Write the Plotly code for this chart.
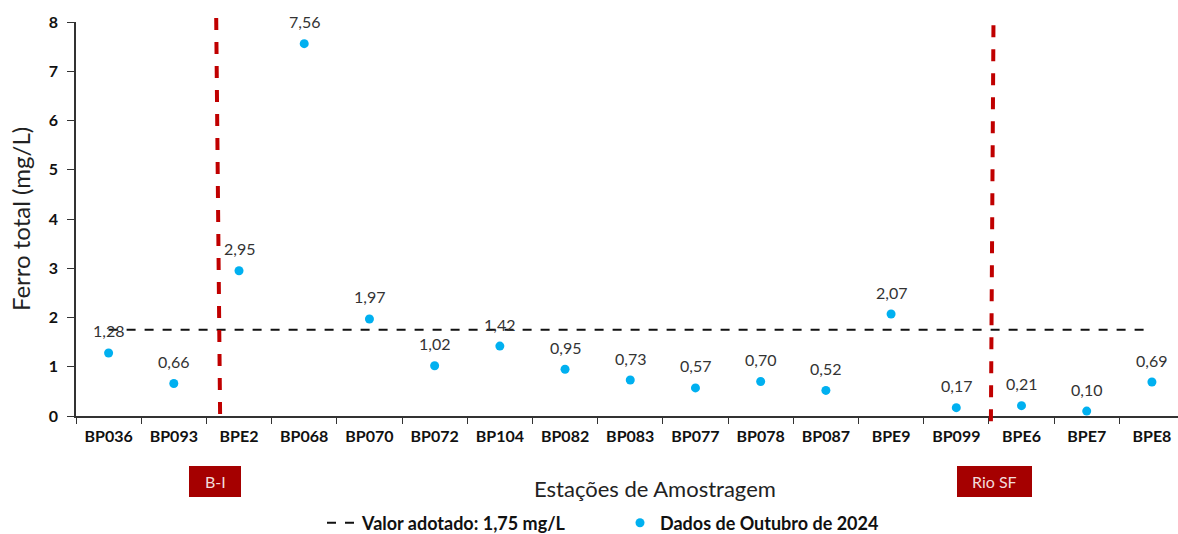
import plotly.graph_objects as go

stations = ["BP036", "BP093", "BPE2", "BP068", "BP070", "BP072", "BP104", "BP082",
            "BP083", "BP077", "BP078", "BP087", "BPE9", "BP099", "BPE6", "BPE7", "BPE8"]
ferro = [1.28, 0.66, 2.95, 7.56, 1.97, 1.02, 1.42, 0.95, 0.73, 0.57, 0.70, 0.52,
         2.07, 0.17, 0.21, 0.10, 0.69]
valor_adotado = 1.75
yticks = [0, 1, 2, 3, 4, 5, 6, 7, 8]
labels = [f"{v:.2f}".replace(".", ",") for v in ferro]

FONT = "Lato"
L, T, PW, PH = 76, 22, 1102, 394

fig = go.Figure()
fig.add_trace(go.Scatter(
    x=[stations[0], stations[-1]], y=[valor_adotado, valor_adotado], mode="lines",
    line=dict(color="#111111", width=2, dash="dash"),
    name="Valor adotado: 1,75 mg/L"))
fig.add_trace(go.Scatter(
    x=stations, y=ferro, mode="markers",
    marker=dict(color="#00B0F0", size=9),
    name="Dados de Outubro de 2024"))

for s, v, t in zip(stations, ferro, labels):
    fig.add_annotation(x=s, y=v, text=t, showarrow=False, yshift=22,
                       font=dict(family=FONT, size=16, color="#333333"))

# Region separators
fig.add_shape(type="line", xref="x", yref="paper", x0=1.65, x1=1.71, y0=1.010, y1=0.0,
              line=dict(color="#C00000", width=4, dash="dash"))
fig.add_shape(type="line", xref="x", yref="paper", x0=13.57, x1=13.53, y0=0.992, y1=-0.028,
              line=dict(color="#C00000", width=4, dash="dash"))

def px(xp):
    return (xp - L) / PW

def py(yp):
    return (T + PH - yp) / PH

# Region boxes
for x0, x1, txt in [(189, 241, "B-I"), (957, 1032, "Rio SF")]:
    fig.add_shape(type="rect", xref="paper", yref="paper",
                  x0=px(x0), x1=px(x1), y0=py(497), y1=py(466),
                  fillcolor="#A50000", line=dict(width=0), layer="below")
    fig.add_annotation(xref="paper", yref="paper", x=px((x0 + x1) / 2),
                       y=py(481.5), text=txt, showarrow=False,
                       xanchor="center", yanchor="middle",
                       font=dict(family=FONT, size=16, color="#F2DCDB"))

fig.add_annotation(xref="paper", yref="paper", x=px(655), y=py(488),
                   xanchor="center", yanchor="middle",
                   text="Estações de Amostragem", showarrow=False,
                   font=dict(family=FONT, size=22, color="#222222"))

fig.update_layout(
    width=1178, height=534,
    margin=dict(l=L, r=0, t=T, b=534 - T - PH, autoexpand=False),
    paper_bgcolor="white", plot_bgcolor="white",
    font=dict(family=FONT, color="#111111"),
    showlegend=True,
    legend=dict(orientation="h", x=px(322), y=py(523),
                xanchor="left", yanchor="middle", entrywidth=253,
                font=dict(family=FONT, size=18, color="#111111", weight="bold")),
)
fig.update_xaxes(
    type="category", categoryorder="array", categoryarray=stations,
    range=[-0.5, 16.4], automargin=False,
    tickson="boundaries", ticks="outside", ticklen=6, tickcolor="#333333",
    showline=True, linecolor="#333333", linewidth=1.5, showgrid=False, zeroline=False,
    ticklabelstandoff=5,
    tickfont=dict(family=FONT, size=16, color="#111111", weight="bold"),
)
fig.update_yaxes(
    range=[0, 8], tickvals=yticks, ticks="outside", ticklen=7, tickcolor="#333333",
    showline=True, linecolor="#333333", linewidth=1.5, showgrid=False, zeroline=False,
    automargin=False, ticklabelstandoff=6,
    tickfont=dict(family=FONT, size=16, color="#111111", weight="bold"),
    title=dict(text="Ferro total (mg/L)", font=dict(family=FONT, size=24, color="#222222"),
               standoff=11),
)

fig.write_html("out.html", config={"displayModeBar": False},
               post_script="document.body.style.margin='0';")
